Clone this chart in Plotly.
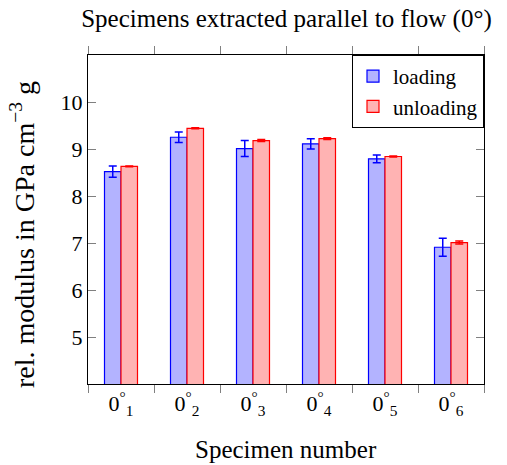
import plotly.graph_objects as go

categories = ["0<sup>°</sup><sub>1</sub>", "0<sup>°</sup><sub>2</sub>", "0<sup>°</sup><sub>3</sub>",
              "0<sup>°</sup><sub>4</sub>", "0<sup>°</sup><sub>5</sub>", "0<sup>°</sup><sub>6</sub>"]
loading = [8.52, 9.25, 9.01, 9.11, 8.79, 6.91]
loading_err = [0.12, 0.11, 0.17, 0.11, 0.08, 0.19]
unloading = [8.63, 9.44, 9.18, 9.22, 8.84, 7.01]
unloading_err = [0.01, 0.01, 0.02, 0.02, 0.01, 0.03]
y_ticks = [5, 6, 7, 8, 9, 10]

FONT = "Liberation Serif"

fig = go.Figure()
fig.add_trace(go.Bar(
    x=categories, y=loading, name="loading",
    marker=dict(color="#b3b3ff", line=dict(color="#0000ff", width=1.2)),
    error_y=dict(type="data", array=loading_err, color="#0000ff", thickness=1.5, width=4),
))
fig.add_trace(go.Bar(
    x=categories, y=unloading, name="unloading",
    marker=dict(color="#ffb3b3", line=dict(color="#ff0000", width=1.2)),
    error_y=dict(type="data", array=unloading_err, color="#ff0000", thickness=1.5, width=4),
))

fig.update_layout(
    width=507, height=465,
    margin=dict(l=88, r=23, t=55, b=81, autoexpand=False),
    plot_bgcolor="white", paper_bgcolor="white",
    barmode="group", bargap=0.5, bargroupgap=0,
    font=dict(family=FONT, size=22, color="black"),
    title=dict(text="Specimens extracted parallel to flow (0°)", x=0.565, xanchor="center",
               y=0.96, yanchor="middle", font=dict(family=FONT, size=25, color="black")),
    legend=dict(x=1, xanchor="right", y=1, yanchor="top", bordercolor="black", borderwidth=1,
                bgcolor="white", font=dict(family=FONT, size=21), tracegroupgap=0,
                itemwidth=30),
    showlegend=True,
    annotations=[
        dict(text="rel. modulus in GPa cm<sup>−3</sup> g", textangle=-90,
             xref="paper", yref="paper", x=-0.165, y=0.455, xanchor="center", yanchor="middle",
             showarrow=False, font=dict(family=FONT, size=28, color="black")),
        dict(text="Specimen number",
             xref="paper", yref="paper", x=0.5, y=-0.2, xanchor="center", yanchor="middle",
             showarrow=False, font=dict(family=FONT, size=25, color="black")),
    ],
)
fig.update_xaxes(
    type="category", tickson="boundaries", ticks="outside", ticklen=8, tickcolor="#808080",
    showline=True, linecolor="black", linewidth=1, mirror="ticks", showgrid=False,
    tickfont=dict(family=FONT, size=22), automargin=False,
)
fig.update_yaxes(
    range=[4, 11], tickvals=y_ticks, ticks="inside", ticklen=8, tickcolor="#808080",
    showline=True, linecolor="black", linewidth=1, mirror="ticks", showgrid=False, zeroline=False,
    tickfont=dict(family=FONT, size=22), automargin=False,
)

fig.write_html("out.html")
